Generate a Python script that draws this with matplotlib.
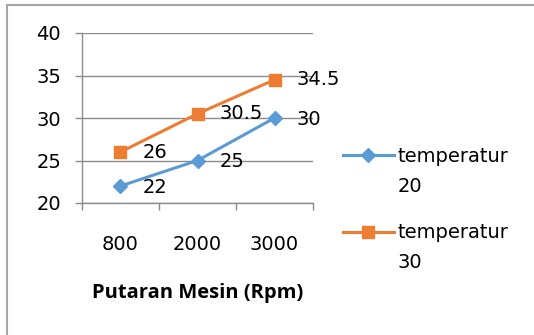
import numpy as np
import matplotlib.pyplot as plt
from matplotlib.lines import Line2D

plt.rcParams['font.family'] = ['DejaVu Sans']

# data
rpm = ["800", "2000", "3000"]
temp20 = [22, 25, 30]
temp30 = [26, 30.5, 34.5]
names = ["temperatur", "temperatur"]
suffix = ["20", "30"]

blue = "#5B9BD5"
orange = "#ED7D31"
grid = "#8C8C8C"
fs = 14

fig = plt.figure(figsize=(5.34, 3.35), dpi=100)
ax = fig.add_axes([82/534, 1-203/335, 231/534, 170/335])

x = np.arange(len(rpm))
l1, = ax.plot(x, temp20, color=blue, lw=2.2, marker="D", ms=7.5)
l2, = ax.plot(x, temp30, color=orange, lw=2.2, marker="s", ms=9)

for xi, v in zip(x, temp20):
    ax.annotate(f"{v:g}", (xi, v), xytext=(16, -1), textcoords="offset points",
                va="center", ha="left", fontsize=fs)
for xi, v in zip(x, temp30):
    ax.annotate(f"{v:g}", (xi, v), xytext=(16, 0), textcoords="offset points",
                va="center", ha="left", fontsize=fs)

ax.set_xlim(-0.5, 2.5)
ax.set_ylim(20, 40)
ax.set_yticks([20, 25, 30, 35, 40])
ax.yaxis.grid(True, color=grid, lw=1)
ax.set_axisbelow(True)
ax.set_xticks([-0.5, 0.5, 1.5, 2.5])
ax.set_xticklabels([])
ax.set_xticks(x, minor=True)
ax.set_xticklabels(rpm, minor=True)
ax.tick_params(axis="x", which="major", length=5, color=grid, width=1)
ax.tick_params(axis="x", which="minor", length=0, pad=23, labelsize=fs)
ax.tick_params(axis="y", length=5, color=grid, width=1, pad=10, labelsize=fs)
for s in ["top", "right"]:
    ax.spines[s].set_visible(False)
for s in ["left", "bottom"]:
    ax.spines[s].set_color(grid)
    ax.spines[s].set_linewidth(1)

ax.set_xlabel("Putaran Mesin (Rpm)", fontsize=14.5, fontweight="bold", family="Open Sans")
ax.xaxis.set_label_coords(0.5, -0.53)
ax.xaxis.label.set_va("center")

leg = fig.legend(handles=[l1, l2], labels=names, loc="upper left",
                 bbox_to_anchor=(343/534, 1-147/335),
                 frameon=False, fontsize=fs, handlelength=2.6, handletextpad=0.2,
                 labelspacing=2.95, borderaxespad=0, borderpad=0)

fig.canvas.draw()
for t, s in zip(leg.get_texts(), suffix):
    bb = t.get_window_extent()
    fig.text(bb.x0 / fig.bbox.width, (bb.y0 - 30 + bb.height / 2) / fig.bbox.height, s,
             fontsize=fs, va="center", ha="left")

# chart border
fig.add_artist(Line2D([7/534, 1], [1-5/335, 1-5/335], color="#A6A6A6", lw=1.5))
fig.add_artist(Line2D([7/534, 7/534], [0, 1-5/335], color="#A6A6A6", lw=1.5))

fig.savefig("out.png", dpi=100)
